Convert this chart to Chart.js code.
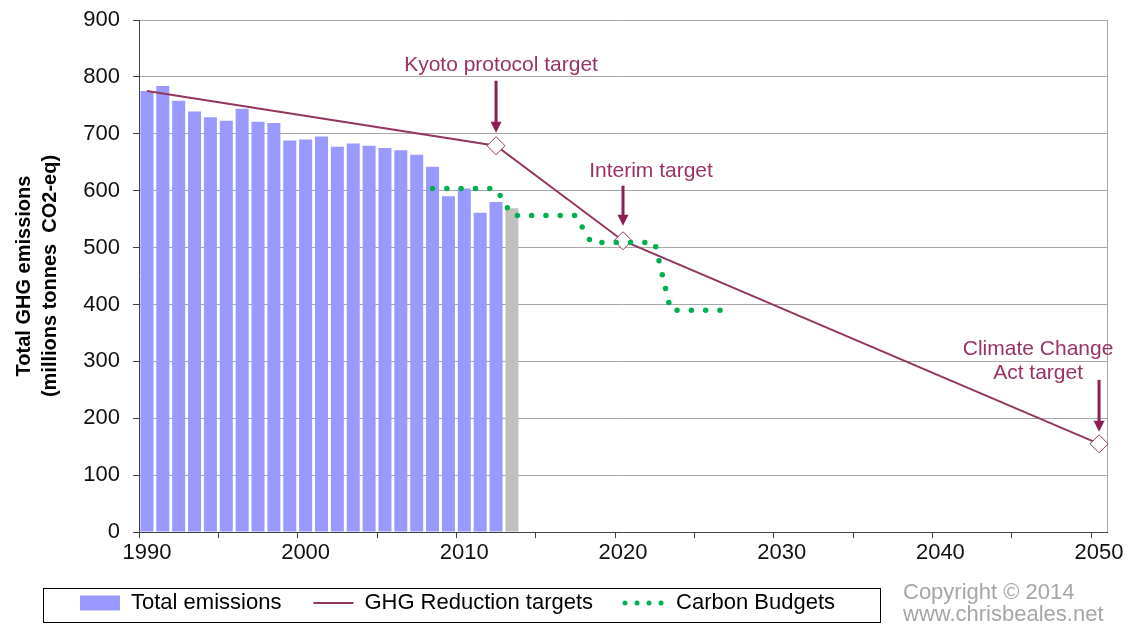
<!DOCTYPE html>
<html>
<head>
<meta charset="utf-8">
<script src="https://cdn.jsdelivr.net/npm/chart.js@4.4.1/dist/chart.umd.min.js"></script>
<style>
    html, body { margin: 0; padding: 0; background: #fff; }
    #wrap { position: relative; width: 1128px; height: 628px; }
</style>
</head>
<body>
<div id="wrap"><canvas id="chart"></canvas></div>
<script>
// categories: one per year, 1990..2050
const years = [];
for (let y = 1990; y <= 2050; y++) {
    years.push(String(y));
}

// total emissions, 1990..2013 (2013 provisional, grey bar)
const emissionValues = [775, 784, 758, 739, 729, 723, 744, 721, 719, 688, 690, 695,
    677, 683, 679, 675, 671, 663, 642, 590, 604, 561, 580, 569];
const emissionYears = years.slice(0, emissionValues.length);
const provisionalYear = '2013';

// reduction targets
const targetYears = ['1990', '2012', '2020', '2050'];
const targetValues = [775, 679, 512, 155];

// carbon budgets (annual average per budget period)
const budgetYears = ['2008', '2009', '2010', '2011', '2012',
    '2013', '2014', '2015', '2016', '2017',
    '2018', '2019', '2020', '2021', '2022',
    '2023', '2024', '2025', '2026', '2027'];
const budgetValues = [603.6, 603.6, 603.6, 603.6, 603.6,
    556.4, 556.4, 556.4, 556.4, 556.4,
    508.8, 508.8, 508.8, 508.8, 508.8,
    390, 390, 390, 390, 390];

// target annotations
const noteYears = ['2012', '2020', '2050'];
const noteTexts = [['Kyoto protocol target'], ['Interim target'], ['Climate Change', 'Act target']];

const xTickLabels = ['1990', '2000', '2010', '2020', '2030', '2040', '2050'];

const FONT = "'Liberation Sans', Arial, sans-serif";
const BAR = '#9999ff',
    BAR_GREY = '#c0c0c0',
    TARGET = '#93365f',
    BUDGET = '#00b050',
    NOTE = '#993366',
    ARROW = '#8c1d55';

Chart.defaults.font.family = FONT;
Chart.defaults.color = '#111';

const onYears = function (keys, values) {
    const out = years.map(() => null);
    keys.forEach((k, i) => {
        out[years.indexOf(k)] = values[i];
    });
    return out;
};

const noteLayout = [
    { dx: 5, dy: -81, top: -65, tip: -13 },
    { dx: 28, dy: -70, top: -55, tip: -15 },
    { dx: -61, dy: -95, top: -64, tip: -12 }
];

const notesPlugin = {
    id: 'notes',
    beforeDatasetsDraw(chart) {
        const { ctx, chartArea } = chart;
        ctx.save();
        ctx.strokeStyle = '#a6a6a6';
        ctx.lineWidth = 1;
        ctx.beginPath();
        ctx.moveTo(Math.round(chartArea.right) + 0.5, chartArea.top);
        ctx.lineTo(Math.round(chartArea.right) + 0.5, chartArea.bottom);
        ctx.stroke();
        ctx.restore();
    },
    afterDatasetsDraw(chart) {
        const ctx = chart.ctx,
            meta = chart.getDatasetMeta(1);
        noteYears.forEach((yr, i) => {
            const pt = meta.data[years.indexOf(yr)],
                lay = noteLayout[i];
            ctx.save();
            ctx.strokeStyle = ARROW;
            ctx.fillStyle = ARROW;
            ctx.lineWidth = 3;
            ctx.beginPath();
            ctx.moveTo(pt.x, pt.y + lay.top);
            ctx.lineTo(pt.x, pt.y + lay.tip - 8);
            ctx.stroke();
            ctx.beginPath();
            ctx.moveTo(pt.x - 5.5, pt.y + lay.tip - 11);
            ctx.lineTo(pt.x + 5.5, pt.y + lay.tip - 11);
            ctx.lineTo(pt.x, pt.y + lay.tip);
            ctx.closePath();
            ctx.fill();

            ctx.font = '21px ' + FONT;
            ctx.textAlign = 'center';
            ctx.textBaseline = 'middle';
            ctx.fillStyle = NOTE;
            noteTexts[i].forEach((line, j) => {
                ctx.fillText(line, pt.x + lay.dx, pt.y + lay.dy + j * 24);
            });
            ctx.restore();
        });
    },
    afterLayout(chart) {
        // legend sits in its own framed box under the axis
        const lg = chart.legend;
        lg.left = 48;
        lg.right = lg.left + lg.width;
        lg.top = 560;
        lg.bottom = lg.top + lg.height;
    },
    afterDraw(chart) {
        const ctx = chart.ctx;
        ctx.save();
        ctx.strokeStyle = '#000';
        ctx.lineWidth = 1;
        ctx.strokeRect(43.5, 588.5, 837, 34);
        ctx.font = '22px ' + FONT;
        ctx.fillStyle = '#a6a6a6';
        ctx.textAlign = 'left';
        ctx.textBaseline = 'middle';
        ctx.fillText('Copyright © 2014', 903, 593);
        ctx.fillText('www.chrisbeales.net', 903, 615);
        ctx.restore();
    }
};

new Chart(document.getElementById('chart'), {
    type: 'bar',
    data: {
        labels: years,
        datasets: [
            {
                type: 'bar',
                label: 'Total emissions',
                data: onYears(emissionYears, emissionValues),
                backgroundColor: years.map(y => (y === provisionalYear ? BAR_GREY : BAR)),
                barPercentage: 0.82,
                categoryPercentage: 1,
                order: 3
            },
            {
                type: 'line',
                label: 'GHG Reduction targets',
                data: onYears(targetYears, targetValues),
                spanGaps: true,
                borderColor: TARGET,
                borderWidth: 2,
                pointStyle: 'rectRot',
                pointRadius: ctx => (ctx.dataIndex === 0 ? 0 : 9),
                pointBackgroundColor: '#fff',
                pointBorderColor: TARGET,
                pointBorderWidth: 1,
                order: 2
            },
            {
                type: 'line',
                label: 'Carbon Budgets',
                data: onYears(budgetYears, budgetValues),
                spanGaps: true,
                borderColor: BUDGET,
                borderWidth: 5.5,
                borderDash: [0, 14.3],
                borderCapStyle: 'round',
                pointRadius: 0,
                order: 1
            }
        ]
    },
    options: {
        responsive: true,
        maintainAspectRatio: false,
        animation: false,
        events: [],
        layout: {
            padding: { top: 20, right: 21, bottom: 0, left: 0 }
        },
        scales: {
            x: {
                offset: true,
                grid: {
                    offset: true,
                    drawOnChartArea: false,
                    drawTicks: true,
                    tickLength: 6,
                    color: ctx => (ctx.index % 5 === 0 ? '#404040' : 'rgba(0,0,0,0)')
                },
                border: { display: true, color: '#404040', width: 1 },
                ticks: {
                    autoSkip: false,
                    maxRotation: 0,
                    minRotation: 0,
                    padding: 2,
                    color: '#111',
                    font: { size: 22 },
                    callback: function (value) {
                        const lab = this.getLabelForValue(value);
                        return xTickLabels.includes(lab) ? lab : '';
                    }
                },
                afterFit: function (scale) {
                    scale.height = 32;
                }
            },
            y: {
                min: 0,
                max: 900,
                ticks: {
                    stepSize: 100,
                    padding: 13,
                    color: '#111',
                    font: { size: 22 }
                },
                grid: {
                    color: '#a6a6a6',
                    tickColor: '#404040',
                    tickLength: 6,
                    drawTicks: true
                },
                border: { display: true, color: '#404040', width: 1 },
                title: {
                    display: true,
                    text: ['Total GHG emissions', '(millions tonnes  CO2-eq)'],
                    color: '#000',
                    font: { size: 20, weight: 'bold', lineHeight: 1.3 },
                    padding: { top: 11, bottom: 0 }
                },
                afterFit: function (scale) {
                    scale.width = 139;
                    scale.paddingTop = 0;
                    scale.paddingBottom = 0;
                }
            }
        },
        plugins: {
            tooltip: { enabled: false },
            legend: {
                position: 'bottom',
                align: 'start',
                labels: {
                    usePointStyle: true,
                    pointStyleWidth: 40,
                    boxHeight: 15,
                    padding: 32,
                    color: '#000',
                    font: { size: 22 },
                    generateLabels: () => [
                        {
                            text: 'Total emissions',
                            fillStyle: BAR,
                            strokeStyle: BAR,
                            lineWidth: 0,
                            pointStyle: 'rect',
                            hidden: false,
                            datasetIndex: 0
                        },
                        {
                            text: 'GHG Reduction targets',
                            fillStyle: TARGET,
                            strokeStyle: TARGET,
                            lineWidth: 2,
                            pointStyle: 'line',
                            hidden: false,
                            datasetIndex: 1
                        },
                        {
                            text: 'Carbon Budgets',
                            fillStyle: BUDGET,
                            strokeStyle: BUDGET,
                            lineWidth: 5,
                            lineDash: [0, 12],
                            lineCap: 'round',
                            pointStyle: 'line',
                            hidden: false,
                            datasetIndex: 2
                        }
                    ]
                }
            }
        }
    },
    plugins: [notesPlugin]
});
</script>
</body>
</html>
